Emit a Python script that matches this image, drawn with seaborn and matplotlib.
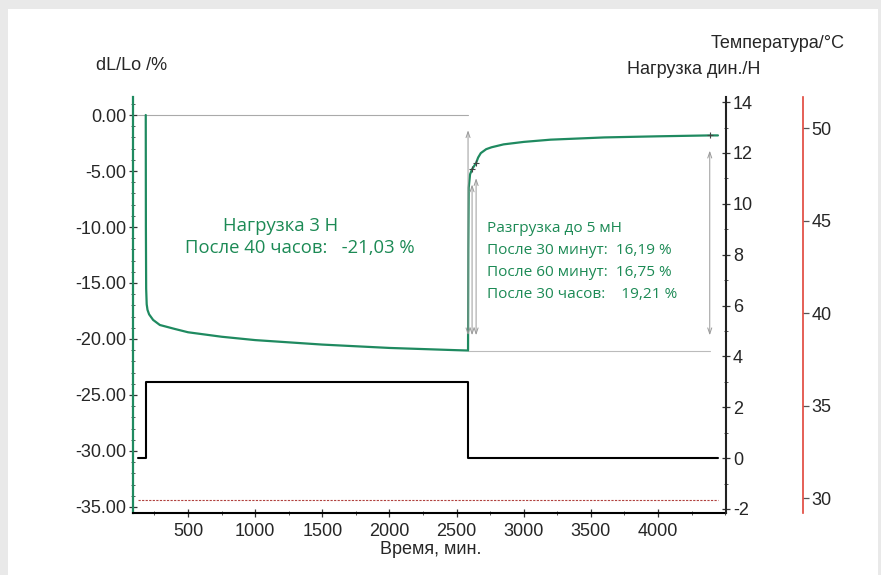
import matplotlib
matplotlib.use("Agg")
import matplotlib.pyplot as plt
import seaborn as sns
import pandas as pd
from matplotlib.patches import Rectangle
from matplotlib.ticker import MultipleLocator, FormatStrFormatter

# --- Данные ---
# относительное удлинение dL/Lo, %
strain_time = [185, 186, 188, 192, 198, 210, 240, 290, 400, 500, 750, 1000, 1250, 1500,
               1750, 2000, 2250, 2500, 2585, 2587, 2590, 2600, 2615, 2645, 2660, 2680,
               2720, 2760, 2850, 3000, 3200, 3600, 4000, 4385, 4446]
strain = [0.0, -10.0, -15.5, -16.9, -17.4, -17.8, -18.3, -18.75, -19.1, -19.4, -19.8,
          -20.1, -20.3, -20.5, -20.65, -20.8, -20.9, -21.0, -21.03, -12.0, -6.5, -5.3,
          -4.84, -4.28, -3.8, -3.4, -3.05, -2.88, -2.62, -2.4, -2.2, -2.0, -1.9, -1.82,
          -1.82]

# нагрузка, Н (ступенька)
load_time = [128, 187, 2585, 4446]
load = [0, 3, 0, 0]

# температура, °C
temp_time = [128, 4446]
temp = [29.9, 29.9]

# контрольные точки
t_unload = 2585           # 40 часов после нагружения
strain_40h = -21.03
check_time = [2615, 2645, 4385]   # 30 мин, 60 мин, 30 часов после разгрузки
recovery = [16.19, 16.75, 19.21]

GREEN = "#1f8a60"
TXT_GREEN = "#1c8a55"

sns.set_theme(style="white")
plt.rcParams["font.family"] = ["Liberation Sans", "DejaVu Sans"]
plt.rcParams["axes.unicode_minus"] = False

fig = plt.figure(figsize=(8.81, 5.75), dpi=100)
fig.patch.set_facecolor("#e9e9e9")
fig.patches.append(Rectangle((8 / 881, 0), 870 / 881, 566 / 575, transform=fig.transFigure,
                             facecolor="white", edgecolor="none", zorder=-10))

ax = fig.add_axes([133 / 881, 62 / 575, 593 / 881, 416 / 575])
ax.patch.set_alpha(0)
ax_load = ax.twinx()
ax_temp = ax.twinx()

df_strain = pd.DataFrame({"t": strain_time, "s": strain})
df_load = pd.DataFrame({"t": load_time, "f": load})
df_temp = pd.DataFrame({"t": temp_time, "T": temp})

# вспомогательные линии
ax.plot([load_time[0], t_unload], [0, 0], color="#aaaaaa", lw=0.8, zorder=1)
ax.plot([t_unload, check_time[2]], [strain_40h, strain_40h], color="#bbbbbb", lw=0.8, zorder=1)

sns.lineplot(data=df_strain, x="t", y="s", ax=ax, color=GREEN, lw=1.6,
             estimator=None, sort=False, zorder=3)
sns.lineplot(data=df_load, x="t", y="f", ax=ax_load, color="black", lw=1.5,
             estimator=None, drawstyle="steps-post")
sns.lineplot(data=df_temp, x="t", y="T", ax=ax_temp, color="#b0413e", lw=0.8,
             linestyle=(0, (2, 1.2)), estimator=None)

# маркеры на кривой в контрольных точках
chk_strain = [strain_40h + r for r in recovery]
ax.scatter(check_time, chk_strain, marker="+", s=25, color="#444444", lw=0.8, zorder=4)

# стрелки
arrow_kw = dict(arrowstyle="<->,head_length=0.35,head_width=0.12", color="#9a9a9a",
                lw=0.7, shrinkA=11, shrinkB=11)
ax.annotate("", xy=(t_unload, 0), xytext=(t_unload, strain_40h), arrowprops=arrow_kw)
for t, s in zip(check_time, chk_strain):
    ax.annotate("", xy=(t, s), xytext=(t, strain_40h), arrowprops=arrow_kw)

# оси
ax.set_xlim(90, 4506)
ax.set_ylim(-35.54, 1.61)
ax_load.set_ylim(-2.16, 14.2)
ax_temp.set_ylim(29.19, 51.68)

ax.xaxis.set_minor_locator(MultipleLocator(250))
ax.set_xticks([500, 1000, 1500, 2000, 2500, 3000, 3500, 4000])
ax.yaxis.set_major_locator(MultipleLocator(5))
ax.yaxis.set_minor_locator(MultipleLocator(1))
ax.yaxis.set_major_formatter(FormatStrFormatter("%.2f"))
ax_load.yaxis.set_major_locator(MultipleLocator(2))
ax_load.yaxis.set_minor_locator(MultipleLocator(1))
ax_temp.yaxis.set_major_locator(MultipleLocator(5))

for a in (ax, ax_load, ax_temp):
    a.set_xlabel("")
    a.set_ylabel("")
    for sp in a.spines.values():
        sp.set_visible(False)

ax.spines["left"].set_visible(True)
ax.spines["left"].set_color(GREEN)
ax.spines["left"].set_linewidth(1.6)
ax.spines["bottom"].set_visible(True)
ax.spines["bottom"].set_color("black")
ax.spines["bottom"].set_linewidth(1.5)
ax_load.spines["right"].set_visible(True)
ax_load.spines["right"].set_color("#222222")
ax_load.spines["right"].set_linewidth(1.5)
ax_temp.spines["right"].set_visible(True)
ax_temp.spines["right"].set_position(("axes", 1.13))
ax_temp.spines["right"].set_color("#e0443a")
ax_temp.spines["right"].set_linewidth(1.2)

ax.tick_params(axis="both", which="major", direction="inout", length=6, width=0.9,
               color="#333333", labelsize=13, pad=2, left=True, bottom=True)
ax.tick_params(axis="both", which="minor", direction="inout", length=3, width=0.7,
               color="#555555", left=True, bottom=True)
ax_load.tick_params(axis="y", which="major", direction="inout", length=6, width=0.9,
                    color="#333333", labelsize=13, pad=2, right=True)
ax_load.tick_params(axis="y", which="minor", direction="inout", length=3, width=0.7,
                    color="#555555", right=True)
ax_temp.tick_params(axis="y", which="major", direction="out", length=4, width=0.9,
                    color="#555555", labelsize=13, pad=2, right=True)
ax.tick_params(axis="x", pad=4)

# надписи
fig.text(132 / 881, 1 - 66 / 575, "dL/Lo /%", ha="center", va="center", fontsize=13)
fig.text(845 / 881, 1 - 43 / 575, "Температура/°C", ha="right", va="center", fontsize=13)
fig.text(760 / 881, 1 - 70 / 575, "Нагрузка дин./Н", ha="right", va="center", fontsize=13)
fig.text(431 / 881, 1 - 550 / 575, "Время, мин.", ha="center", va="center", fontsize=13)

green_font = ["Open Sans", "DejaVu Sans"]
ax.text(761, -9.9, "Нагрузка 3 Н", color=TXT_GREEN, fontsize=13.3, family=green_font,
        ha="left", va="center")
ax.text(478, -11.9, "После 40 часов:   -21,03 %", color=TXT_GREEN, fontsize=13.3,
        family=green_font, ha="left", va="center")
right_lines = ["Разгрузка до 5 мН",
               "После 30 минут:  16,19 %",
               "После 60 минут:  16,75 %",
               "После 30 часов:    19,21 %"]
for txt, yy in zip(right_lines, [-10.1, -12.14, -14.1, -16.07]):
    ax.text(2726, yy, txt, color=TXT_GREEN, fontsize=11.1, family=green_font,
            ha="left", va="center")

fig.savefig("out.png", dpi=100, facecolor=fig.get_facecolor())
